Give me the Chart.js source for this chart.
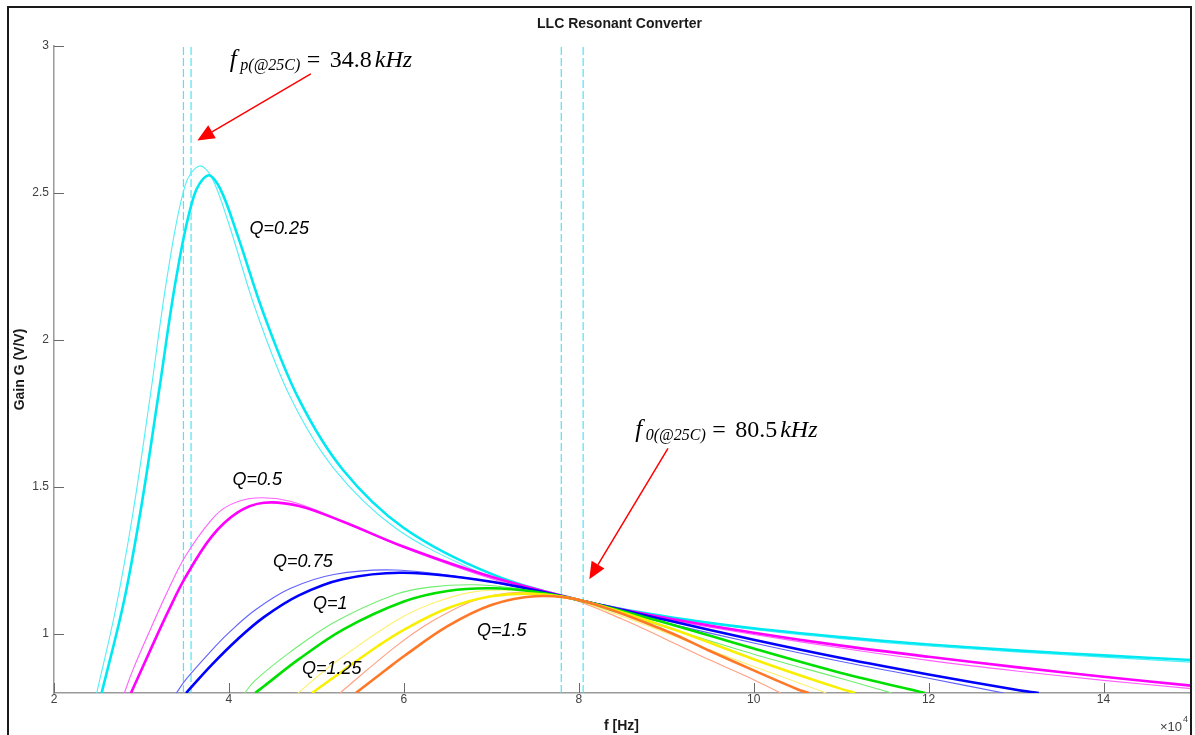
<!DOCTYPE html>
<html>
<head>
<meta charset="utf-8">
<title>LLC Resonant Converter</title>
<script src="https://cdn.jsdelivr.net/npm/chart.js@4.4.1/dist/chart.umd.min.js"></script>
<style>
  html, body { margin: 0; padding: 0; background: #ffffff; }
  #wrap { width: 1195px; height: 735px; position: relative; }
  canvas { display: block; }
</style>
</head>
<body>
<div id="wrap"><canvas id="gain" width="1195" height="735"></canvas></div>
<script>
// ---- Gain curves, frequency in kHz, gain in V/V ----
// Nominal tank (heavy traces)
const fNom_q025 = [25.45, 28, 30, 32, 34, 36, 37.6, 39, 41, 44, 48, 53, 60, 70, 80.5, 90, 100, 110, 120, 130, 140, 150];
const gNom_q025 = [0.80, 1.112, 1.437, 1.825, 2.216, 2.49, 2.560, 2.515, 2.355, 2.087, 1.799, 1.560, 1.361, 1.205, 1.113, 1.060, 1.020, 0.990, 0.965, 0.945, 0.928, 0.912];

const fNom_q050 = [28.8, 31, 33, 35, 38, 41, 44, 48, 53, 60, 70, 80.5, 90, 100, 110, 120, 130, 140, 150];
const gNom_q050 = [0.80, 0.945, 1.074, 1.192, 1.331, 1.414, 1.447, 1.436, 1.383, 1.297, 1.195, 1.113, 1.055, 1.005, 0.961, 0.923, 0.888, 0.855, 0.825];

const fNom_q075 = [35.1, 38, 41, 44, 48, 53, 60, 70, 80.5, 90, 100, 110, 120, 130, 132.6];
const gNom_q075 = [0.80, 0.895, 0.983, 1.058, 1.132, 1.187, 1.209, 1.178, 1.113, 1.048, 0.981, 0.919, 0.863, 0.811, 0.80];

const fNom_q100 = [43.0, 44, 48, 53, 60, 65, 70, 75, 80.5, 90, 100, 110, 119.6];
const gNom_q100 = [0.80, 0.823, 0.915, 1.015, 1.111, 1.147, 1.156, 1.144, 1.113, 1.038, 0.951, 0.868, 0.80];

const fNom_q125 = [49.5, 53, 57, 60, 65, 70, 75, 80.5, 90, 100, 105, 110, 111.6];
const gNom_q125 = [0.80, 0.875, 0.959, 1.015, 1.088, 1.129, 1.137, 1.113, 1.025, 0.915, 0.863, 0.814, 0.80];

const fNom_q150 = [54.5, 58, 60, 65, 70, 75, 80.5, 90, 95, 100, 105, 106.3];
const gNom_q150 = [0.80, 0.880, 0.925, 1.027, 1.099, 1.129, 1.113, 1.011, 0.943, 0.877, 0.813, 0.80];

// Shifted tank (light traces)
const fAlt_q025 = [24.88, 27, 29, 31, 33, 35, 36.6, 38, 40, 43, 47, 52, 59, 68, 73, 78, 85, 90, 100, 110, 120, 130, 140, 150];
const gAlt_q025 = [0.80, 1.078, 1.407, 1.809, 2.227, 2.527, 2.592, 2.555, 2.394, 2.108, 1.807, 1.563, 1.362, 1.218, 1.165, 1.13, 1.082, 1.057, 1.016, 0.985, 0.960, 0.940, 0.922, 0.905];

const fAlt_q050 = [28.04, 29, 31, 33, 35, 38, 40, 43, 47, 52, 59, 68, 73, 78, 85, 90, 100, 110, 120, 130, 140, 150];
const gAlt_q050 = [0.80, 0.877, 1.015, 1.147, 1.264, 1.389, 1.438, 1.463, 1.452, 1.397, 1.306, 1.208, 1.163, 1.13, 1.079, 1.050, 0.999, 0.953, 0.911, 0.875, 0.843, 0.815];

const fAlt_q075 = [34.0, 35, 38, 40, 43, 47, 52, 59, 68, 73, 78, 85, 90, 100, 110, 120, 128.6];
const gAlt_q075 = [0.80, 0.843, 0.944, 1.005, 1.082, 1.155, 1.203, 1.218, 1.188, 1.160, 1.13, 1.074, 1.038, 0.970, 0.907, 0.850, 0.80];

const fAlt_q100 = [41.8, 43, 47, 52, 59, 63, 68, 73, 78, 85, 90, 100, 110, 115.8];
const gAlt_q100 = [0.80, 0.843, 0.939, 1.040, 1.135, 1.160, 1.168, 1.155, 1.13, 1.068, 1.023, 0.932, 0.849, 0.80];

const fAlt_q125 = [47.9, 52, 59, 63, 68, 73, 78, 85, 90, 95, 100, 103, 108.3];
const gAlt_q125 = [0.80, 0.901, 1.044, 1.102, 1.144, 1.149, 1.13, 1.060, 1.004, 0.946, 0.890, 0.858, 0.80];

const fAlt_q150 = [52.7, 59, 63, 68, 73, 78, 85, 90, 95, 100, 103.1];
const gAlt_q150 = [0.80, 0.957, 1.040, 1.114, 1.142, 1.13, 1.051, 0.982, 0.912, 0.845, 0.80];

// Resonance markers (kHz): parallel and series resonance of both tanks
const markerFreqs = [34.8, 35.67, 78.0, 80.5];

// Axis ticks
const xTickValues = [20, 40, 60, 80, 100, 120, 140];
const yTickValues = [1, 1.5, 2, 2.5, 3];

// Curve labels: text, frequency (kHz), gain
const qLabelText = ['Q=0.25', 'Q=0.5', 'Q=0.75', 'Q=1', 'Q=1.25', 'Q=1.5'];
const qLabelFreq = [42.35, 40.4, 45.05, 49.6, 48.35, 68.35];
const qLabelGain = [2.378, 1.524, 1.247, 1.103, 0.881, 1.011];

// ---- build datasets ----
function pairs(xs, ys) { return xs.map((x, i) => ({ x: x, y: ys[i] })); }

const colorsHeavy = ['#00E8F2', '#FF00FF', '#0000FF', '#00E000', '#F8F000', '#FF7828'];
const colorsLight = ['#50F0F8', '#FF60FF', '#6060FF', '#70EE70', '#FFF070', '#FFA080'];

const nomSeries = [[fNom_q025, gNom_q025], [fNom_q050, gNom_q050], [fNom_q075, gNom_q075],
                   [fNom_q100, gNom_q100], [fNom_q125, gNom_q125], [fNom_q150, gNom_q150]];
const altSeries = [[fAlt_q025, gAlt_q025], [fAlt_q050, gAlt_q050], [fAlt_q075, gAlt_q075],
                   [fAlt_q100, gAlt_q100], [fAlt_q125, gAlt_q125], [fAlt_q150, gAlt_q150]];

const datasets = [];
markerFreqs.forEach((f) => {
  datasets.push({
    data: [{ x: f, y: 0.8 }, { x: f, y: 3 }],
    borderColor: 'rgba(64,224,240,0.9)', borderWidth: 1.2, borderDash: [8, 3],
    showLine: true, pointRadius: 0, fill: false, tension: 0
  });
});
altSeries.forEach((s, i) => {
  datasets.push({
    data: pairs(s[0], s[1]), borderColor: colorsLight[i], borderWidth: 1.1,
    showLine: true, pointRadius: 0, fill: false, tension: 0.35
  });
});
nomSeries.forEach((s, i) => {
  datasets.push({
    data: pairs(s[0], s[1]), borderColor: colorsHeavy[i], borderWidth: 2.6,
    showLine: true, pointRadius: 0, fill: false, tension: 0.35
  });
});
// later entries are painted on top
datasets.forEach((d, i) => { d.order = datasets.length - i; });

// ---- decorations: frame, inward ticks, titles, annotations ----
function arrow(ctx, x0, y0, x1, y1) {
  const ang = Math.atan2(y1 - y0, x1 - x0);
  const headLen = 17, headHalf = 7.5;
  const bx = x1 - headLen * Math.cos(ang), by = y1 - headLen * Math.sin(ang);
  ctx.strokeStyle = '#FF0000'; ctx.fillStyle = '#FF0000'; ctx.lineWidth = 1.5;
  ctx.beginPath(); ctx.moveTo(x0, y0); ctx.lineTo(bx, by); ctx.stroke();
  ctx.beginPath();
  ctx.moveTo(x1, y1);
  ctx.lineTo(bx + headHalf * Math.sin(ang), by - headHalf * Math.cos(ang));
  ctx.lineTo(bx - headHalf * Math.sin(ang), by + headHalf * Math.cos(ang));
  ctx.closePath(); ctx.fill();
}

function mathLabel(ctx, x, y, sub, value) {
  ctx.fillStyle = '#000000';
  ctx.textBaseline = 'alphabetic'; ctx.textAlign = 'left';
  ctx.font = 'italic 25px "Liberation Serif"';
  ctx.fillText('f', x, y);
  ctx.font = 'italic 16px "Liberation Serif"';
  ctx.fillText(sub, x + 10.5, y + 3.5);
  ctx.font = '24px "Liberation Serif"';
  ctx.fillText('=', x + 77, y);
  ctx.fillText(value, x + 100, y);
  ctx.font = 'italic 24px "Liberation Serif"';
  ctx.fillText('kHz', x + 145, y);
}

const decorations = {
  id: 'decorations',
  afterDraw(chart) {
    const ctx = chart.ctx;
    const xs = chart.scales.x, ys = chart.scales.y;
    const a = chart.chartArea;
    ctx.save();

    // inward tick marks
    ctx.strokeStyle = '#6a6a6a'; ctx.lineWidth = 1;
    xTickValues.forEach(v => {
      const px = Math.round(xs.getPixelForValue(v)) + 0.5;
      ctx.beginPath(); ctx.moveTo(px, a.bottom); ctx.lineTo(px, a.bottom - 10); ctx.stroke();
    });
    yTickValues.forEach(v => {
      const py = Math.round(ys.getPixelForValue(v)) + 0.5;
      ctx.beginPath(); ctx.moveTo(a.left, py); ctx.lineTo(a.left + 10, py); ctx.stroke();
    });

    // outer frame
    ctx.strokeStyle = '#1a1a1a'; ctx.lineWidth = 2;
    ctx.beginPath();
    ctx.moveTo(8, 740); ctx.lineTo(8, 7); ctx.lineTo(a.right, 7); ctx.lineTo(a.right, 740);
    ctx.stroke();

    // title
    ctx.fillStyle = '#1a1a1a';
    ctx.font = 'bold 14px "Liberation Sans"';
    ctx.textAlign = 'center'; ctx.textBaseline = 'middle';
    ctx.fillText('LLC Resonant Converter', (a.left + a.right) / 2 - 3, 24);

    // axis titles
    ctx.fillText('f [Hz]', (a.left + a.right) / 2 - 1, 726);
    ctx.save();
    ctx.translate(20, (a.top + a.bottom) / 2);
    ctx.rotate(-Math.PI / 2);
    ctx.fillText('Gain G (V/V)', 0, 0);
    ctx.restore();

    // exponent of the frequency axis
    ctx.fillStyle = '#404040';
    ctx.textAlign = 'left'; ctx.textBaseline = 'middle';
    ctx.font = '13px "Liberation Sans"';
    ctx.fillText('\u00d710', 1160, 727);
    ctx.font = '9px "Liberation Sans"';
    ctx.fillText('4', 1183, 720);

    // Q labels
    ctx.fillStyle = '#000000';
    ctx.font = 'italic 18px "Liberation Sans"';
    qLabelText.forEach((t, i) => {
      ctx.fillText(t, xs.getPixelForValue(qLabelFreq[i]), ys.getPixelForValue(qLabelGain[i]));
    });

    // resonance annotations
    mathLabel(ctx, xs.getPixelForValue(40.1), ys.getPixelForValue(2.929), 'p(@25C)', '34.8');
    mathLabel(ctx, xs.getPixelForValue(86.45), ys.getPixelForValue(1.671), '0(@25C)', '80.5');
    arrow(ctx, xs.getPixelForValue(49.36), ys.getPixelForValue(2.905),
               xs.getPixelForValue(36.39), ys.getPixelForValue(2.679));
    arrow(ctx, xs.getPixelForValue(90.2), ys.getPixelForValue(1.632),
               xs.getPixelForValue(81.2), ys.getPixelForValue(1.187));

    ctx.restore();
  }
};

new Chart(document.getElementById('gain'), {
  type: 'scatter',
  data: { datasets: datasets },
  options: {
    responsive: false,
    animation: false,
    events: [],
    layout: { padding: { left: 0, right: 4, top: 46, bottom: 0 } },
    plugins: { legend: { display: false }, tooltip: { enabled: false }, title: { display: false } },
    scales: {
      x: {
        type: 'linear', min: 20, max: 150,
        afterFit: s => { s.height = 42; },
        afterBuildTicks: s => { s.ticks = xTickValues.map(v => ({ value: v })); },
        ticks: {
          callback: v => String(v / 10), color: '#404040',
          font: { family: 'Liberation Sans', size: 12 }, padding: -1,
          maxRotation: 0, autoSkip: false
        },
        grid: { display: false, drawTicks: false },
        border: { display: true, color: '#9a9a9a', width: 1.5 }
      },
      y: {
        type: 'linear', min: 0.8, max: 3,
        afterFit: s => { s.width = 54; },
        afterBuildTicks: s => { s.ticks = yTickValues.map(v => ({ value: v })); },
        ticks: {
          callback: v => String(v), color: '#404040',
          font: { family: 'Liberation Sans', size: 12 }, padding: 5, autoSkip: false
        },
        grid: { display: false, drawTicks: false },
        border: { display: true, color: '#9a9a9a', width: 1.5 }
      }
    }
  },
  plugins: [decorations]
});
</script>
</body>
</html>
